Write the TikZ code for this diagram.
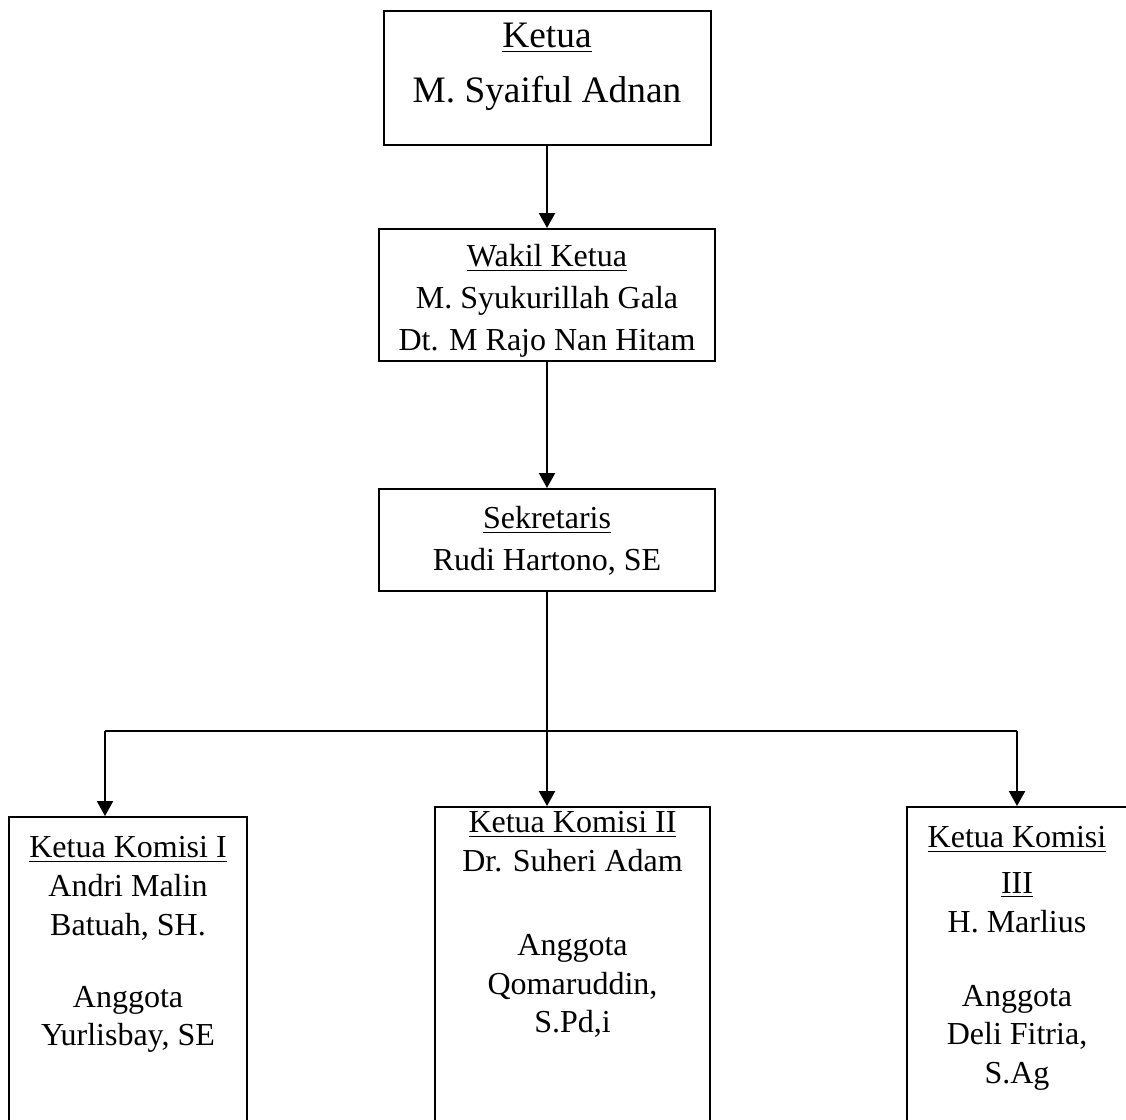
\documentclass[tikz,border=0pt]{standalone}
\usepackage{fontspec}
\setmainfont{Liberation Serif}
\usetikzlibrary{arrows.meta,positioning}
\newlength{\unitpx}
\setlength{\unitpx}{0.375pt}
% box content: width, height, top gap, lines
\newcommand{\boxtext}[4]{%
  \begin{minipage}[t][#2\unitpx][t]{#1\unitpx}%
    \vspace*{#3\unitpx}\centering #4%
  \end{minipage}}
\tikzset{
  orgbox/.style={draw, line width=0.75pt, inner sep=0pt, anchor=north},
  bigfont/.style={font=\fontsize{14}{20.6}\selectfont},
  midfont/.style={font=\fontsize{12}{15.75}\selectfont},
  smallfont/.style={font=\fontsize{12}{14.6}\selectfont},
  conn/.style={line width=0.75pt, -{Triangle[length=5.6pt, width=6pt]}}
}
\begin{document}
\begin{tikzpicture}[x=\unitpx, y=-\unitpx]
  \useasboundingbox (0,0) rectangle (1126,1119);
  \node[orgbox, bigfont] (ketua) at (547,10)
    {\boxtext{327}{134}{12}{\underline{Ketua}\\M. Syaiful Adnan}};
  \node[orgbox, midfont] (wakil) at (547,228)
    {\boxtext{336}{132}{15}{\underline{Wakil Ketua}\\M. Syukurillah Gala\\Dt. M Rajo Nan Hitam}};
  \node[orgbox, midfont] (sekretaris) at (547,488)
    {\boxtext{336}{102}{17}{\underline{Sekretaris}\\Rudi Hartono, SE}};
  % komisi
  \node[orgbox, smallfont] (komisi1) at (128,816)
    {\boxtext{238}{400}{19}{\underline{Ketua Komisi I}\\Andri Malin\\Batuah, SH.\\[33\unitpx]Anggota\\Yurlisbay, SE}};
  \node[orgbox, smallfont] (komisi2) at (572.5,806)
    {\boxtext{275}{400}{4}{\underline{Ketua Komisi II}\\Dr. Suheri Adam\\[45\unitpx]Anggota\\Qomaruddin,\\S.Pd,i}};
  \node[orgbox, smallfont] (komisi3) at (1017,806)
    {\boxtext{220}{400}{19}{\underline{Ketua Komisi}\\[7\unitpx]\underline{III}\\H. Marlius\\[35\unitpx]Anggota\\Deli Fitria,\\S.Ag}};
  \coordinate (drop1) at (105,731);
  \coordinate (drop3) at (1017,731);
  % arrows
  \draw[conn] (ketua) -- (wakil);
  \draw[conn] (wakil) -- (sekretaris);
  \draw[conn] (sekretaris.south) -- (sekretaris.south |- komisi2.north);
  \draw[line width=0.75pt] (drop1) -- (drop3);
  \draw[conn] (drop1) -- (drop1 |- komisi1.north);
  \draw[conn] (drop3) -- (drop3 |- komisi3.north);
\end{tikzpicture}
\end{document}
